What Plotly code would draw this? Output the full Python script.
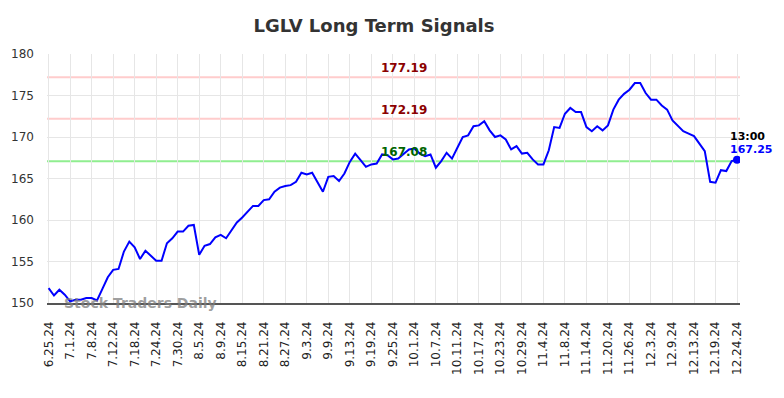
import pandas as pd
import plotly.graph_objects as go

# ---- data ----
holidays = ["2024-07-04", "2024-09-02", "2024-11-28"]
trade_days = [d for d in pd.bdate_range("2024-06-25", "2024-12-24") if d.strftime("%Y-%m-%d") not in holidays]
dates = [f"{d.month}.{d.day}.{d.strftime('%y')}" for d in trade_days]
categories = dates + ["12.24.24 13:00"]

prices = [
    151.8, 150.9, 151.6, 151.0, 150.2, 150.4, 150.4, 150.6, 150.6, 150.3,
    151.7, 153.1, 154.0, 154.1, 156.2, 157.4, 156.7, 155.3, 156.3, 155.7,
    155.1, 155.1, 157.2, 157.8, 158.6, 158.6, 159.3, 159.4, 155.8, 156.9,
    157.1, 157.9, 158.2, 157.8, 158.8, 159.7, 160.3, 161.0, 161.7, 161.7,
    162.4, 162.5, 163.4, 163.9, 164.1, 164.2, 164.6, 165.7, 165.5, 165.7,
    164.5, 163.4, 165.2, 165.3, 164.7, 165.6, 167.0, 168.0, 167.2, 166.4,
    166.7, 166.8, 167.9, 167.8, 167.3, 167.4, 167.95, 168.5, 168.6, 168.0,
    167.7, 167.9, 166.3, 167.1, 168.1, 167.4, 168.7, 170.0, 170.2, 171.3,
    171.4, 171.9, 170.8, 170.0, 170.2, 169.7, 168.5, 168.9, 168.0, 168.1,
    167.3, 166.7, 166.7, 168.4, 171.2, 171.1, 172.8, 173.5, 173.0, 173.0,
    171.2, 170.7, 171.3, 170.8, 171.4, 173.3, 174.5, 175.2, 175.7, 176.5,
    176.5, 175.3, 174.5, 174.5, 173.8, 173.3, 172.0, 171.4, 170.7, 170.4,
    170.1, 169.2, 168.3, 164.6, 164.5, 166.0, 165.9, 167.1, 167.25,
]

resistance_levels = [177.19, 172.19]
support_levels = [167.08]
last_time = "13:00"

tick_idx = list(range(0, len(categories), 4))
tick_vals = [categories[i] for i in tick_idx]
tick_text = [dates[i] if i < len(dates) else dates[-1] for i in tick_idx]

FONT = "DejaVu Sans"

fig = go.Figure()
fig.add_trace(go.Scatter(
    x=categories, y=prices, mode="lines",
    line=dict(color="#0000ff", width=2), showlegend=False,
))
fig.add_trace(go.Scatter(
    x=[categories[-1]], y=[prices[-1]], mode="markers",
    marker=dict(color="#0000ff", size=8), showlegend=False,
))

for lv in resistance_levels:
    fig.add_hline(y=lv, line=dict(color="#ffcccc", width=2), layer="below")
    fig.add_annotation(x=categories[66], y=lv, text=f"<b>{lv:.2f}</b>", showarrow=False,
                       yanchor="bottom", font=dict(family=FONT, size=12, color="#8b0000"))
for lv in support_levels:
    fig.add_hline(y=lv, line=dict(color="#90ee90", width=2), layer="below")
    fig.add_annotation(x=categories[66], y=lv, text=f"<b>{lv:.2f}</b>", showarrow=False,
                       yanchor="bottom", font=dict(family=FONT, size=12, color="#006400"))

fig.add_annotation(x=categories[-1], y=prices[-1], text=f"<b>{last_time}</b>", showarrow=False,
                   xanchor="left", yanchor="bottom", xshift=-9, yshift=15,
                   font=dict(family=FONT, size=11, color="#000000"))
fig.add_annotation(x=categories[-1], y=prices[-1], text=f"<b>{prices[-1]:.2f}</b>", showarrow=False,
                   xanchor="left", yanchor="bottom", xshift=-9, yshift=2,
                   font=dict(family=FONT, size=11, color="#0000ff"))
fig.add_annotation(xref="paper", yref="y", x=0.021, y=150, text="<b>Stock Traders Daily</b>",
                   showarrow=False, xanchor="left", yanchor="middle",
                   font=dict(family=FONT, size=14, color="rgba(128,128,128,0.75)"))

fig.update_layout(
    width=784, height=398,
    margin=dict(l=47, r=44, t=54, b=95),
    paper_bgcolor="white", plot_bgcolor="white",
    title=dict(text="<b>LGLV Long Term Signals</b>", x=0.477, xanchor="center", y=0.935, yanchor="middle",
               font=dict(family=FONT, size=18, color="#333333")),
    font=dict(family=FONT, color="#333333"),
    xaxis=dict(type="category", categoryorder="array", categoryarray=categories,
               tickmode="array", tickvals=tick_vals, ticktext=tick_text,
               tickangle=-90, tickfont=dict(size=12, color="#222222"), ticklabelstandoff=12,
               range=[-0.3, len(categories) - 0.45],
               showgrid=True, gridcolor="#e6e6e6", gridwidth=1,
               showline=True, linecolor="#555555", linewidth=1.5, ticks="", zeroline=False),
    yaxis=dict(range=[150, 180], tickvals=[150, 155, 160, 165, 170, 175, 180],
               tickfont=dict(size=12, color="#333333"), ticklabelstandoff=12,
               showgrid=True, gridcolor="#e6e6e6", gridwidth=1, zeroline=False, ticks=""),
)

fig.write_html("out.html")
